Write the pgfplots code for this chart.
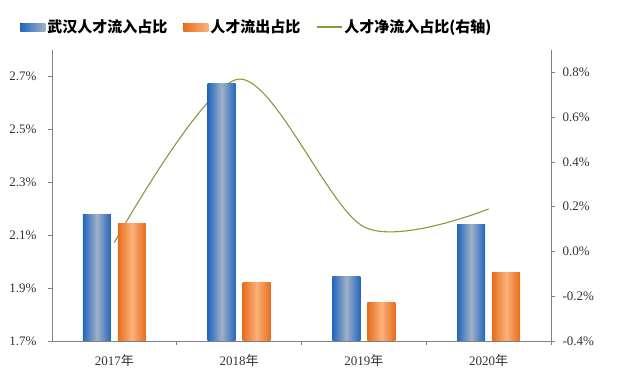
\documentclass[border=0pt]{standalone}
\usepackage{pgfplots}
\pgfplotsset{compat=1.18}
\usepackage{fontspec}
\setmainfont{Liberation Serif}
\newfontfamily\cjk{Noto Sans CJK SC}
\definecolor{blueedge}{RGB}{34,102,190}
\definecolor{bluemid}{RGB}{160,176,200}
\definecolor{orangeedge}{RGB}{232,108,30}
\definecolor{orangemid}{RGB}{250,178,122}
\definecolor{linegreen}{RGB}{134,154,56}
\definecolor{axisgray}{RGB}{128,128,128}
\begin{document}
\begin{tikzpicture}
\path[use as bounding box] (-52pt,-36pt) rectangle (569pt,341pt);
\pgfplotsset{
  common/.style={
    scale only axis, width=499pt, height=291pt,
    xmin=-0.5, xmax=3.5,
    axis line style={axisgray, line width=0.8pt},
    tick style={axisgray, line width=0.8pt},
    tick align=outside,
    major tick length=4pt,
    minor tick length=4pt,
    ticklabel style={font=\fontsize{13}{15}\selectfont, text=black!80},
  },
  bluebar/.style={draw=none, left color=blueedge, right color=blueedge, middle color=bluemid, bar shift=-17.5pt},
  orangebar/.style={draw=none, left color=orangeedge, right color=orangeedge, middle color=orangemid, bar shift=17.5pt},
}
% right axis: net inflow line (drawn first, behind bars)
\begin{axis}[common,
  axis y line*=right, axis x line=none,
  ymin=-0.4, ymax=0.9,
  ytick={-0.4,-0.2,0,0.2,0.4,0.6,0.8},
  yticklabels={-0.4\%,-0.2\%,0.0\%,0.2\%,0.4\%,0.6\%,0.8\%},
  yticklabel style={xshift=4pt},
]
\addplot[smooth, tension=0.5, color=linegreen, line width=1.1pt] coordinates {
  (0,0.04) (1,0.77) (2,0.11) (3,0.19)
};
\end{axis}
% left axis: bars
\begin{axis}[common,
  axis y line*=left, axis x line*=bottom,
  ymin=1.7, ymax=2.8,
  ytick={1.7,1.9,2.1,2.3,2.5,2.7},
  yticklabels={1.7\%,1.9\%,2.1\%,2.3\%,2.5\%,2.7\%},
  yticklabel style={xshift=-8pt},
  xtick={0,1,2,3},
  xticklabels={2017{\cjk 年},2018{\cjk 年},2019{\cjk 年},2020{\cjk 年}},
  xticklabel style={yshift=-6pt},
  major x tick style={draw=none},
  minor xtick={0.5,1.5,2.5,3.5},
  ybar, bar width=28pt,
  legend columns=3,
  legend style={draw=none, fill=none, at={(-0.064,1.079)}, anchor=west,
    font=\cjk\bfseries\fontsize{15}{18}\selectfont,
    /tikz/every even column/.append style={column sep=14pt},
    inner sep=0pt},
]
% 武汉人才流入占比
\addplot[bluebar, legend image code/.code={\fill[left color=blueedge, right color=bluemid] (0pt,-4pt) rectangle (25pt,4pt);}]
  coordinates {(0,2.18)};
\addlegendentry{武汉人才流入占比}
% 人才流出占比
\addplot[orangebar, legend image code/.code={\fill[left color=orangeedge, right color=orangemid] (0pt,-4pt) rectangle (25pt,4pt);}]
  coordinates {(0,2.145)};
\addlegendentry{人才流出占比}
\addplot[bluebar, forget plot] coordinates {(1,2.675)};
\addplot[bluebar, forget plot] coordinates {(2,1.942)};
\addplot[bluebar, forget plot] coordinates {(3,2.142)};
\addplot[orangebar, forget plot] coordinates {(1,1.923)};
\addplot[orangebar, forget plot] coordinates {(2,1.845)};
\addplot[orangebar, forget plot] coordinates {(3,1.958)};
\addlegendimage{legend image code/.code={\draw[linegreen, line width=1.1pt] (0pt,0pt) -- (25pt,0pt);}}
\addlegendentry{人才净流入占比(右轴)}
\end{axis}
\end{tikzpicture}
\end{document}
